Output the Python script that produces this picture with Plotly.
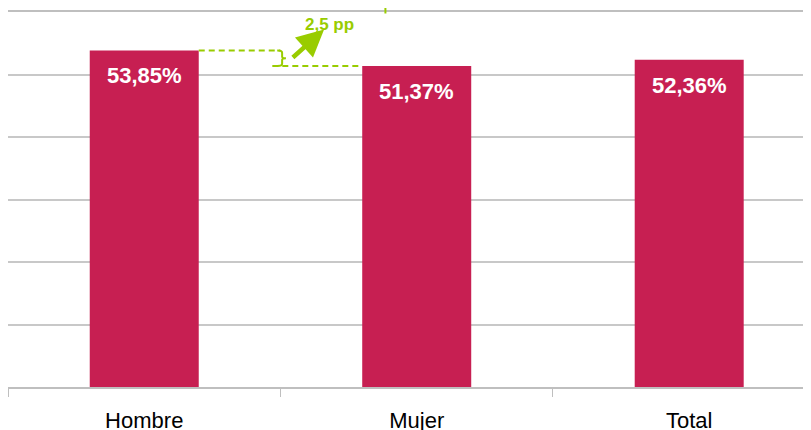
import plotly.graph_objects as go

categories = ["Hombre", "Mujer", "Total"]
values = [53.85, 51.37, 52.36]
value_labels = ["53,85%", "51,37%", "52,36%"]
diff_label = "2,5 pp"

BAR = "#C71F52"
GREEN = "#99CC00"
GRID = "#C8C8C8"
BW = 0.4

xs = list(range(len(categories)))

fig = go.Figure()
fig.add_trace(go.Bar(x=xs, y=values, width=BW, marker=dict(color=BAR, line=dict(width=0)),
                     hoverinfo="skip"))

# value labels inside bars
for x, v, t in zip(xs, values, value_labels):
    fig.add_annotation(x=x, y=v, text=f"<b>{t}</b>", showarrow=False, yanchor="top", yshift=-11,
                       font=dict(family="Liberation Sans, Arial", size=22, color="white"))

# green difference guide
h, m = values[0], values[1]
fig.add_shape(type="line", x0=xs[0] + BW / 2, x1=0.5, y0=h, y1=h,
              line=dict(color=GREEN, width=2, dash="6px,4px"))
fig.add_shape(type="line", x0=0.47, x1=xs[1] - BW / 2, y0=m, y1=m,
              line=dict(color=GREEN, width=2, dash="6px,4px"))
# brace
mid = (h + m) / 2
bx = 0.5
fig.add_shape(type="path",
              path=(f"M {bx-0.012},{h} Q {bx+0.006},{h} {bx+0.006},{h-0.35} L {bx+0.006},{mid+0.25} "
                    f"Q {bx+0.006},{mid} {bx+0.02},{mid} Q {bx+0.006},{mid} {bx+0.006},{mid-0.25} "
                    f"L {bx+0.006},{m+0.35} Q {bx+0.006},{m} {bx-0.012},{m}"),
              line=dict(color=GREEN, width=2))
# arrow
fig.add_annotation(x=0.66, y=57.2, ax=0.54, ay=mid - 0.1, axref="x", ayref="y",
                   showarrow=True, arrowhead=2, arrowsize=1.2, arrowwidth=4.5, arrowcolor=GREEN, text="")
fig.add_annotation(x=0.68, y=58.0, text=f"<b>{diff_label}</b>", showarrow=False,
                   font=dict(family="Liberation Sans, Arial", size=17, color=GREEN))
# small tick mark at top
fig.add_shape(type="line", xref="paper", yref="paper", x0=0.47, x1=0.47, y0=0.996, y1=1.011,
              line=dict(color=GREEN, width=2))

fig.update_layout(
    width=811, height=430,
    margin=dict(l=0, r=8, t=4, b=51, autoexpand=False),
    plot_bgcolor="white", paper_bgcolor="white",
    showlegend=False,
    bargap=0.6,
)
fig.update_yaxes(range=[0, 60], dtick=10, showgrid=True, gridcolor=GRID, gridwidth=1.5,
                 showticklabels=False, showline=True, linecolor="#BFBFBF", linewidth=2,
                 zeroline=False, ticks="", automargin=False)
fig.update_xaxes(range=[-0.5, 2.447], tickmode="array", tickvals=xs, ticktext=categories,
                 ticks="", showgrid=False, zeroline=False, showline=True, linecolor="#BFBFBF",
                 linewidth=2, mirror=True, ticklabelstandoff=13, automargin=False,
                 tickfont=dict(family="Liberation Sans, Arial", size=22, color="black"),
                 minor=dict(tickmode="array", tickvals=[-0.5, 0.5, 1.5, 2.5], ticks="outside",
                            ticklen=8, tickcolor="#BFBFBF", tickwidth=1, showgrid=False))

fig.write_html("out.html")
